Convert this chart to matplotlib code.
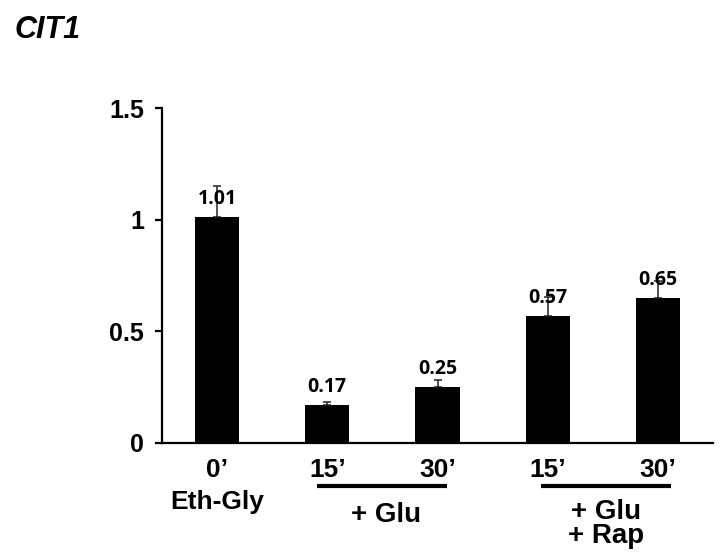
import matplotlib
matplotlib.use("Agg")
import matplotlib.pyplot as plt
import matplotlib.transforms as mtransforms

# Data
tick_labels = ["0\u2019", "15\u2019", "30\u2019", "15\u2019", "30\u2019"]
values = [1.01, 0.17, 0.25, 0.57, 0.65]
errors = [0.14, 0.012, 0.03, 0.085, 0.075]
value_labels = ["1.01", "0.17", "0.25", "0.57", "0.65"]
y_ticks = [0, 0.5, 1, 1.5]
y_tick_labels = ["0", "0.5", "1", "1.5"]
title = "CIT1"
sub_label = "Eth-Gly"
group1_label = "+ Glu"
group2_labels = ["+ Glu", "+ Rap"]

plt.rcParams['font.family'] = ['Liberation Sans', 'DejaVu Sans']

fig = plt.figure(figsize=(7.2, 5.55), dpi=100)
ax = fig.add_axes([162/720, 1-443/555, (713-162)/720, (443-108)/555])

x = list(range(len(values)))
ax.bar(x, values, width=0.4, color='black', zorder=2)
ax.errorbar(x, values, yerr=[[0]*len(errors), errors], fmt='none',
            ecolor='#222222', elinewidth=1.1, capsize=3, capthick=1.1, zorder=3)

for xi, v, lab in zip(x, values, value_labels):
    ax.annotate(lab, (xi, v), xytext=(0, 13), textcoords='offset pixels',
                ha='center', va='baseline', fontsize=14, fontweight='bold',
                family=['Open Sans', 'DejaVu Sans'], zorder=4)

ax.set_xlim(-0.5, 4.5)
ax.set_ylim(0, 1.5)
ax.set_yticks(y_ticks)
ax.set_yticklabels(y_tick_labels, fontsize=18, fontweight='bold')
ax.set_xticks(x)
ax.set_xticklabels(tick_labels, fontsize=19, fontweight='bold')
plt.setp(ax.get_xticklabels(), va='baseline')
ax.tick_params(axis='x', length=0, pad=24.5)
ax.tick_params(axis='y', length=5, width=1.6, pad=8, direction='out')

for s in ['top', 'right']:
    ax.spines[s].set_visible(False)
for s in ['left', 'bottom']:
    ax.spines[s].set_linewidth(1.6)

trans = mtransforms.blended_transform_factory(ax.transData, ax.transAxes)

def fy(py):
    return (443 - py) / 335

ax.text(0, fy(509), sub_label, transform=trans, ha='center', va='baseline',
        fontsize=19, fontweight='bold')
ax.plot([0.91, 2.09], [fy(486), fy(486)], transform=trans, color='black',
        lw=3, clip_on=False, solid_capstyle='butt')
ax.text(1.53, fy(522), group1_label, transform=trans, ha='center', va='baseline',
        fontsize=20, fontweight='bold')
ax.plot([2.935, 4.12], [fy(486), fy(486)], transform=trans, color='black',
        lw=3, clip_on=False, solid_capstyle='butt')
ax.text(3.53, fy(519), group2_labels[0], transform=trans, ha='center', va='baseline',
        fontsize=20, fontweight='bold')
ax.text(3.53, fy(543), group2_labels[1], transform=trans, ha='center', va='baseline',
        fontsize=20, fontweight='bold')

fig.text(15/720, 1-38/555, title, ha='left', va='baseline', fontsize=22,
         fontweight='bold', fontstyle='italic')

fig.savefig("out.png", dpi=100)
